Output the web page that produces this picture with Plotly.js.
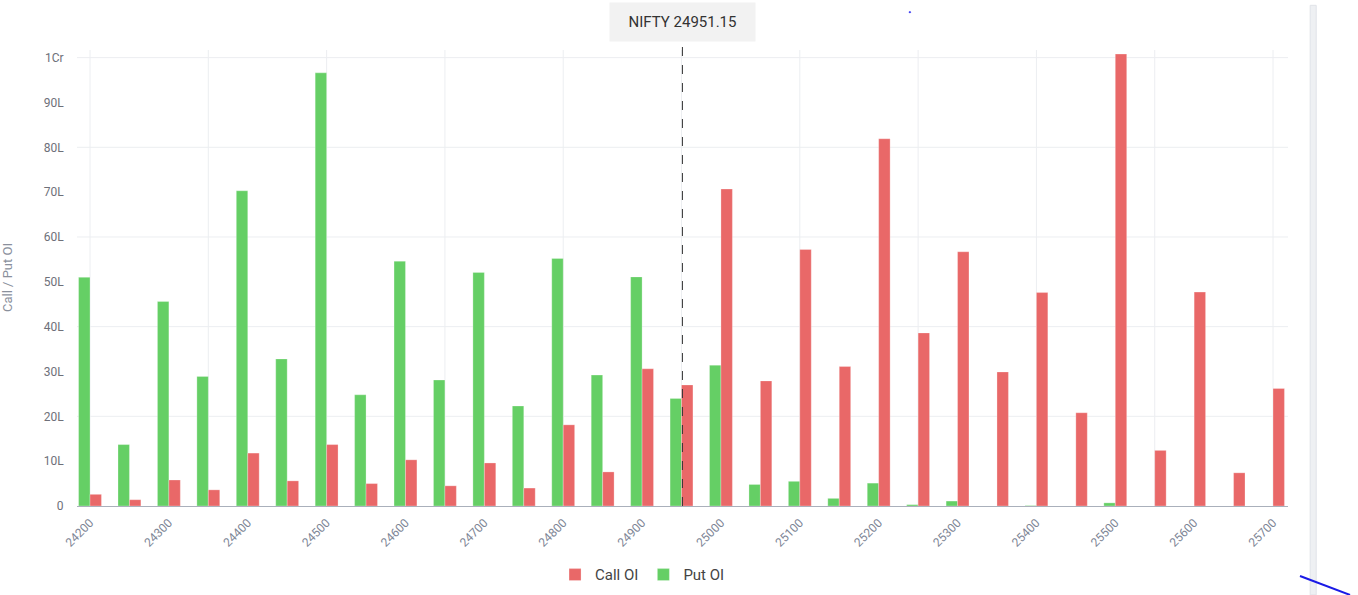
<!DOCTYPE html>
<html>
<head>
<meta charset="utf-8">
<script src="https://cdn.plot.ly/plotly-3.0.1.min.js"></script>
<style>
  html, body { margin: 0; padding: 0; background: #ffffff; }
  #chart { width: 1358px; height: 595px; }
</style>
</head>
<body>
<div id="chart"></div>
<script>
// Strike prices (categories)
const strikes = [24200, 24250, 24300, 24350, 24400, 24450, 24500, 24550, 24600, 24650,
                 24700, 24750, 24800, 24850, 24900, 24950, 25000, 25050, 25100, 25150,
                 25200, 25250, 25300, 25350, 25400, 25450, 25500, 25550, 25600, 25650, 25700];

// Put OI (green)
const putOI = [5100000, 1370000, 4560000, 2890000, 7030000, 3280000, 9660000, 2480000, 5460000, 2810000,
               5210000, 2230000, 5520000, 2920000, 5110000, 2400000, 3140000, 480000, 550000, 170000,
               510000, 30000, 110000, 0, 10000, 0, 70000, 0, 0, 0, 0];

// Call OI (red)
const callOI = [260000, 140000, 580000, 360000, 1180000, 560000, 1370000, 500000, 1030000, 450000,
                960000, 400000, 1810000, 760000, 3060000, 2700000, 7070000, 2790000, 5720000, 3110000,
                8190000, 3860000, 5670000, 2990000, 4760000, 2080000, 10080000, 1240000, 4770000, 740000, 2620000];

// Axis tick labels
const xTickVals = [24200, 24300, 24400, 24500, 24600, 24700, 24800, 24900, 25000, 25100, 25200, 25300, 25400, 25500, 25600, 25700];
const xGridVals = [24200, 24350, 24500, 24650, 24800, 24950, 25100, 25250, 25400, 25550, 25700];
const yTickVals = [0, 1000000, 2000000, 3000000, 4000000, 5000000, 6000000, 7000000, 8000000, 9000000, 10000000];
const yTickText = ['0', '10L', '20L', '30L', '40L', '50L', '60L', '70L', '80L', '90L', '1Cr'];
const yGridVals = [2000000, 4000000, 6000000, 8000000, 10000000];

const spotName = 'NIFTY';
const spotValue = 24951.15;

const GREEN = '#65cf65';
const RED = '#e96868';
const GRID = '#eceef1';
const TICK = '#6e7079';

const traces = [
  {
    type: 'bar', name: 'Put OI', x: strikes, y: putOI,
    marker: { color: GREEN, line: { color: 'rgba(255,255,255,0.45)', width: 0.6 } },
    hoverinfo: 'x+y'
  },
  {
    type: 'bar', name: 'Call OI', x: strikes, y: callOI,
    marker: { color: RED, line: { color: 'rgba(255,255,255,0.45)', width: 0.6 } },
    hoverinfo: 'x+y'
  }
];

const shapes = [];
xGridVals.forEach(v => shapes.push({
  type: 'line', xref: 'x', yref: 'paper', x0: v, x1: v, y0: 0, y1: 1,
  line: { color: GRID, width: 1 }, layer: 'below'
}));
yGridVals.forEach(v => shapes.push({
  type: 'line', xref: 'paper', yref: 'y', x0: 0, x1: 1, y0: v, y1: v,
  line: { color: GRID, width: 1 }, layer: 'below'
}));
// spot price dashed line
shapes.push({
  type: 'line', xref: 'x', yref: 'paper', x0: spotValue, x1: spotValue, y0: 0, y1: 1.01,
  line: { color: '#333333', width: 1, dash: 'dash' }, layer: 'above'
});
// right side light strip (page artefact)
shapes.push({
  type: 'rect', xref: 'paper', yref: 'paper', x0: 1.0183, x1: 1.0233, y0: -0.195, y1: 1.098,
  fillcolor: '#eef0f3', line: { color: '#e0e3e8', width: 1 }, layer: 'above'
});
// blue stroke at bottom right (page artefact)
shapes.push({
  type: 'line', xref: 'paper', yref: 'paper', x0: 1.0099, y0: -0.1535, x1: 1.0512, y1: -0.195,
  line: { color: '#1a1ae6', width: 2 }, layer: 'above'
});
// small blue dot at top (page artefact)
shapes.push({
  type: 'circle', xref: 'paper', yref: 'paper', x0: 0.6870, x1: 0.6885, y0: 1.0815, y1: 1.0845,
  fillcolor: '#2020ee', line: { color: '#2020ee', width: 0.5 }, layer: 'above'
});

const layout = {
  width: 1358, height: 595,
  margin: { l: 77, r: 70, t: 50, b: 89, autoexpand: false },
  paper_bgcolor: '#ffffff', plot_bgcolor: '#ffffff',
  font: { family: 'Roboto, "Open Sans", sans-serif', color: TICK, size: 12 },
  barmode: 'group', bargap: 0.42, bargroupgap: 0,
  showlegend: true,
  legend: {
    orientation: 'h', x: 0.467, xanchor: 'center', y: -0.151, yanchor: 'middle',
    traceorder: 'reversed', font: { size: 15, color: '#444444' }, itemwidth: 30
  },
  xaxis: {
    type: 'linear', range: [24183.5, 25719], automargin: false,
    tickmode: 'array', tickvals: xTickVals, ticktext: xTickVals.map(String),
    tickangle: -45, showgrid: false, zeroline: false,
    showline: true, linecolor: '#aab0bb', linewidth: 1,
    ticks: 'outside', ticklen: 4, tickcolor: 'rgba(0,0,0,0)',
    tickfont: { size: 12, color: '#7d8595' }, fixedrange: true
  },
  yaxis: {
    range: [0, 10170000], automargin: false, tickmode: 'array', tickvals: yTickVals, ticktext: yTickText,
    showgrid: false, zeroline: false, showline: false,
    ticks: 'outside', ticklen: 10, tickcolor: 'rgba(0,0,0,0)',
    tickfont: { size: 12, color: TICK }, fixedrange: true
  },
  shapes: shapes,
  annotations: [
    {
      xref: 'x', yref: 'paper', x: spotValue, y: 1.061, xanchor: 'center', yanchor: 'middle',
      text: spotName + ' ' + spotValue.toFixed(2), showarrow: false,
      bgcolor: '#f2f2f2', width: 143, height: 36,
      font: { size: 15, color: '#333333' }
    },
    {
      xref: 'paper', yref: 'paper', x: 0, y: 0.5, xshift: -70, xanchor: 'center', yanchor: 'middle',
      text: 'Call / Put OI', textangle: -90, showarrow: false,
      font: { size: 13, color: '#8a909c' }
    }
  ]
};

Plotly.newPlot('chart', traces, layout, { displayModeBar: false, staticPlot: true });
</script>
</body>
</html>
